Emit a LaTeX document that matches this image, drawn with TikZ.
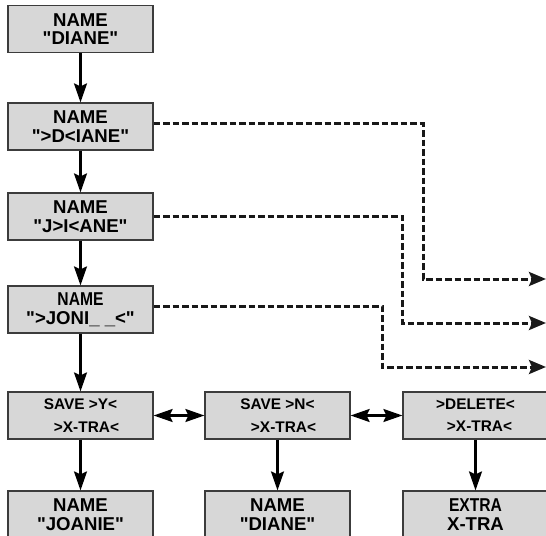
\documentclass[tikz,border=0pt]{standalone}
\usepackage{fontspec}
\setmainfont{Liberation Sans}[Ligatures=TeXOff]
\newfontfamily\narrowfont{Liberation Sans}[Ligatures=TeXOff,FakeStretch=0.84]
\usetikzlibrary{arrows.meta,positioning}
\definecolor{boxgray}{RGB}{215,215,215}
\definecolor{edgegray}{RGB}{60,60,60}
\tikzset{
  menubox/.style={draw=edgegray, fill=boxgray, line width=1.2bp, minimum width=145bp,
    minimum height=47bp, inner sep=0pt, align=center,
    font=\fontsize{18.6bp}{18.5bp}\selectfont\bfseries},
  savebox/.style={menubox, font=\fontsize{15.4bp}{22.3bp}\selectfont\bfseries},
  flow/.style={line width=2.2bp, -{Stealth[length=19bp,width=13bp,inset=3bp]}},
  swap/.style={line width=2.2bp, {Stealth[length=19bp,width=13bp,inset=3bp]}-{Stealth[length=19bp,width=13bp,inset=3bp]}},
  jump/.style={line width=3bp, black!90, dash pattern=on 6.5bp off 3bp,
    -{Stealth[length=17bp,width=14bp,inset=3bp]}}
}
\begin{document}
\begin{tikzpicture}[x=1bp,y=-1bp]
  \clip (0,0) rectangle (546,536);
  % name being edited
  \node[menubox] (diane)  at (80.5,29)    {NAME\\"DIANE"};
  \node[menubox] (dsel)   at (80.5,126.5) {NAME\\">D<IANE"};
  \node[menubox] (isel)   at (80.5,216.5) {NAME\\"J>I<ANE"};
  \node[menubox] (joni)   at (80.5,309.5) {{\narrowfont NAME}\\">JONI\_ \_<"};
  % save menu
  \node[savebox] (savey)  at (80.5,415.5)  {SAVE >Y<\\\hspace*{12bp}>X-TRA<};
  \node[savebox] (saven)  at (277.5,415.5) {SAVE >N<\\\hspace*{12bp}>X-TRA<};
  \node[savebox] (delete) at (475.5,415.5) {>DELETE<\\\hspace*{8bp}>X-TRA<};
  % results
  \node[menubox] (joanie) at (80.5,514.5)  {NAME\\"JOANIE"};
  \node[menubox] (kept)   at (277.5,514.5) {NAME\\"DIANE"};
  \node[menubox] (extra)  at (475.5,514.5) {\narrowfont EXTRA\\X-TRA};
  \coordinate (outa) at (546,279);
  \coordinate (outb) at (546,323);
  \coordinate (outc) at (546,367);

  \draw[flow] (diane) -- (dsel);
  \draw[flow] (dsel) -- (isel);
  \draw[flow] (isel) -- (joni);
  \draw[flow] (joni) -- (savey);
  \draw[flow] (savey) -- (joanie);
  \draw[flow] (saven) -- (kept);
  \draw[flow] (delete) -- (extra);
  \draw[swap] (savey) -- (saven);
  \draw[swap] (saven) -- (delete);

  \draw[jump] (dsel.east |- 0,124) -| (423,279) -- (outa);
  \draw[jump] (isel.east |- 0,216) -| (402,323) -- (outb);
  \draw[jump] (joni.east |- 0,306) -| (382,367) -- (outc);
\end{tikzpicture}
\end{document}
